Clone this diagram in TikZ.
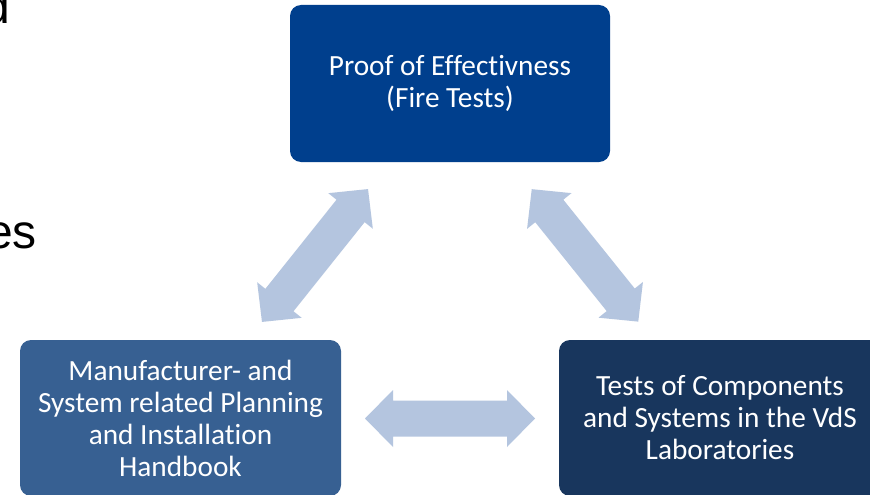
\documentclass[tikz,border=0pt]{standalone}
\usepackage{fontspec}
\newfontfamily\carlito[Ligatures=NoCommon]{Carlito}
\newfontfamily\arialfont{Liberation Sans}
\definecolor{topblue}{RGB}{0,63,141}
\definecolor{midblue}{RGB}{55,96,146}
\definecolor{navyblue}{RGB}{24,54,93}
\definecolor{arrowblue}{RGB}{180,197,223}
\tikzset{
  box/.style={rounded corners=11pt, inner sep=0pt, align=center, text=white,
    font=\carlito\fontsize{29.3}{32}\selectfont},
  frag/.style={inner sep=0pt, anchor=base east, text=black,
    font=\arialfont\fontsize{48}{48}\selectfont},
  pics/blockarrow/.style={code={
    \fill[arrowblue] (-85,0) -- (-57,28.5) -- (-57,18) -- (57,18) -- (57,28.5)
      -- (85,0) -- (57,-28.5) -- (57,-18) -- (-57,-18) -- (-57,-28.5) -- cycle;
  }}
}
\begin{document}
\begin{tikzpicture}[x=1pt,y=1pt]
\useasboundingbox (0,0) rectangle (870,-495);
\clip (0,0) rectangle (870,-495);
\fill[white] (0,0) rectangle (870,-495);
% cropped slide text fragments
\node[frag] (fragd) at (10,-24) {d};
\node[frag] (frages) at (37,-248) {es};
% boxes
\node[box, fill=topblue, minimum width=320pt, minimum height=157pt] (proof) at (450,-83.5)
  {Proof of Effectivness\\(Fire Tests)};
\node[box, fill=midblue, minimum width=321pt, minimum height=156pt] (manu) at (180.5,-418)
  {Manufacturer- and\\System related Planning\\and Installation\\Handbook};
\node[box, fill=navyblue, minimum width=322pt, minimum height=156pt] (tests) at (720,-418)
  {Tests of Components\\and Systems in the VdS\\Laboratories};
% block arrows
\coordinate (aleft) at (315,-255.5);
\coordinate (aright) at (585,-255.4);
\coordinate (abottom) at (450,-418.5);
\pic[shift={(aleft)}, rotate=51.4] {blockarrow};
\pic[shift={(aright)}, rotate=-51.2] {blockarrow};
\pic[shift={(abottom)}] {blockarrow};
\end{tikzpicture}
\end{document}
